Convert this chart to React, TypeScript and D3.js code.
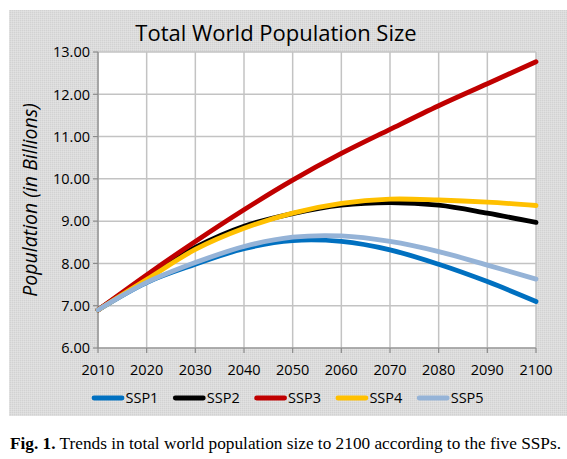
import React from "react";
import * as d3 from "d3";

const years = [2010, 2020, 2030, 2040, 2050, 2060, 2070, 2080, 2090, 2100];
const ssp1 = [6.9, 7.55, 7.98, 8.35, 8.54, 8.52, 8.32, 7.98, 7.57, 7.1];
const ssp2 = [6.9, 7.68, 8.38, 8.88, 9.18, 9.38, 9.44, 9.38, 9.19, 8.97];
const ssp3 = [6.9, 7.73, 8.52, 9.27, 9.97, 10.6, 11.17, 11.73, 12.25, 12.77];
const ssp4 = [6.9, 7.62, 8.33, 8.83, 9.19, 9.42, 9.52, 9.5, 9.45, 9.37];
const ssp5 = [6.9, 7.55, 8.02, 8.4, 8.62, 8.65, 8.52, 8.28, 7.96, 7.63];
const seriesNames = ["SSP1", "SSP2", "SSP3", "SSP4", "SSP5"];
const seriesColors = ["#0070c0", "#000000", "#c00000", "#ffc000", "#95b3d7"];
const yTicks = [6, 7, 8, 9, 10, 11, 12, 13];

const W = 567;
const H = 459;
const plot = { left: 98, right: 536, top: 52, bottom: 348 };

export default function App() {
  const x = d3.scaleLinear().domain([2010, 2100]).range([plot.left, plot.right]);
  const y = d3.scaleLinear().domain([6, 13]).range([plot.bottom, plot.top]);
  const all = [ssp1, ssp2, ssp3, ssp4, ssp5];
  const line = d3
    .line<number>()
    .x((_, i) => x(years[i]))
    .y((d) => y(d))
    .curve(d3.curveCatmullRom.alpha(0.5));
  const font = "'Open Sans', sans-serif";
  const legendX0 = 92;
  const legendStep = 81.3;
  return (
    <svg
      width={W}
      height={H}
      style={{ position: "absolute", left: 0, top: 0, display: "block", background: "#fff" }}
    >
      <defs>
        <pattern id="noise" width={2} height={2} patternUnits="userSpaceOnUse">
          <rect width={2} height={2} fill="#dcdcdc" />
          <rect width={1} height={1} fill="#d2d2d2" />
          <rect x={1} y={1} width={1} height={1} fill="#e2e2e2" />
        </pattern>
      </defs>
      <rect x={9} y={10} width={W - 9} height={406} fill="url(#noise)" />
      <rect
        x={plot.left}
        y={plot.top}
        width={plot.right - plot.left}
        height={plot.bottom - plot.top}
        fill="#ffffff"
      />
      {yTicks.map((t) => (
        <line
          key={"gy" + t}
          x1={plot.left}
          x2={plot.right}
          y1={y(t)}
          y2={y(t)}
          stroke="#c3c3c3"
          strokeWidth={1.5}
        />
      ))}
      {years.map((t) => (
        <line
          key={"gx" + t}
          x1={x(t)}
          x2={x(t)}
          y1={plot.top}
          y2={plot.bottom}
          stroke="#c3c3c3"
          strokeWidth={1.5}
        />
      ))}
      <line x1={plot.left} x2={plot.left} y1={plot.top} y2={plot.bottom} stroke="#8a8a8a" strokeWidth={1.2} />
      <line x1={plot.left} x2={plot.right} y1={plot.bottom} y2={plot.bottom} stroke="#8a8a8a" strokeWidth={1.2} />
      {yTicks.map((t) => (
        <g key={"ty" + t}>
          <line x1={plot.left - 5} x2={plot.left} y1={y(t)} y2={y(t)} stroke="#8a8a8a" strokeWidth={1.2} />
          <text
            x={plot.left - 8}
            y={y(t)}
            dy="0.36em"
            textAnchor="end"
            fontFamily={font}
            fontSize={14.5}
            fill="#000"
          >
            {t.toFixed(2)}
          </text>
        </g>
      ))}
      {years.map((t) => (
        <g key={"tx" + t}>
          <line x1={x(t)} x2={x(t)} y1={plot.bottom} y2={plot.bottom + 5} stroke="#8a8a8a" strokeWidth={1.2} />
          <text
            x={x(t)}
            y={375}
            textAnchor="middle"
            fontFamily={font}
            fontSize={14.5}
            fill="#000"
          >
            {t}
          </text>
        </g>
      ))}
      {all.map((s, i) => (
        <path
          key={seriesNames[i]}
          d={line(s) || ""}
          fill="none"
          stroke={seriesColors[i]}
          strokeWidth={4.8}
          strokeLinecap="round"
        />
      ))}
      <text x={276} y={41} textAnchor="middle" fontFamily={font} fontSize={22} fill="#000">
        Total World Population Size
      </text>
      <text
        transform={`translate(37,${(plot.top + plot.bottom) / 2}) rotate(-90)`}
        textAnchor="middle"
        fontFamily={font}
        fontStyle="italic"
        fontSize={19.5}
        fill="#000"
      >
        Population (in Billions)
      </text>
      {seriesNames.map((n, i) => {
        const lx = legendX0 + i * legendStep;
        return (
          <g key={"lg" + n}>
            <line
              x1={lx + 2}
              x2={lx + 30}
              y1={398}
              y2={398}
              stroke={seriesColors[i]}
              strokeWidth={4.8}
              strokeLinecap="round"
            />
            <text x={lx + 33.5} y={398} dy="0.36em" fontFamily={font} fontSize={14.5} fill="#000">
              {n}
            </text>
          </g>
        );
      })}
      <text
        x={10}
        y={449}
        fontFamily="'Liberation Serif', serif"
        fontSize={16.5}
        fill="#000"
        textLength={551}
        lengthAdjust="spacingAndGlyphs"
      >
        <tspan fontWeight="bold">Fig. 1.</tspan>
        <tspan> Trends in total world population size to 2100 according to the five SSPs.</tspan>
      </text>
    </svg>
  );
}
